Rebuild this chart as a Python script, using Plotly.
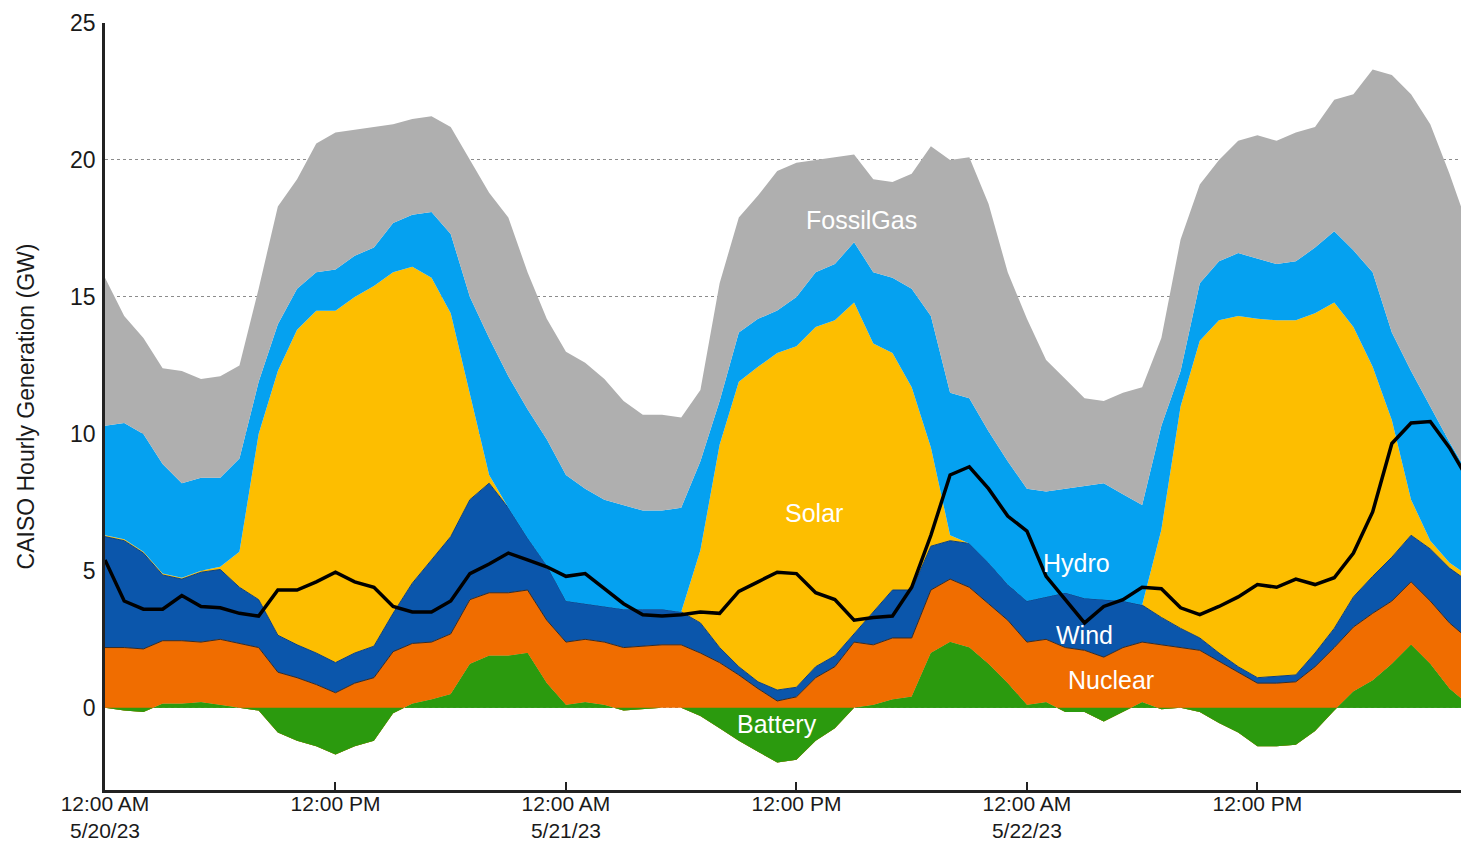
import pandas as pd
import plotly.graph_objects as go

# hourly CAISO generation, GW, starting 12:00 AM 5/20/23
times = pd.date_range("2023-05-20 00:00", periods=72, freq="h")

battery = [0, -0.1, -0.15, 0.15, 0.15, 0.2, 0.1, 0, -0.1, -0.9, -1.2, -1.4,
           -1.7, -1.4, -1.2, -0.2, 0.15, 0.3, 0.5, 1.6, 1.9, 1.9, 2.0, 0.9,
           0.1, 0.2, 0.1, -0.1, -0.05, 0, 0, -0.3, -0.75, -1.2, -1.6, -2.0,
           -1.9, -1.2, -0.75, 0, 0.1, 0.3, 0.4, 2.0, 2.4, 2.2, 1.6, 0.9,
           0.1, 0.2, -0.15, -0.15, -0.5, -0.15, 0.2, -0.05, 0, -0.15, -0.55, -0.9,
           -1.4, -1.4, -1.35, -0.85, -0.1, 0.6, 1.0, 1.6, 2.3, 1.6, 0.7, 0.1]
nuclear = [2.2, 2.3, 2.3, 2.3, 2.3, 2.2, 2.4, 2.35, 2.3, 2.2, 2.3, 2.25,
           2.25, 2.3, 2.3, 2.25, 2.2, 2.1, 2.2, 2.35, 2.3, 2.3, 2.3, 2.3,
           2.3, 2.3, 2.3, 2.3, 2.3, 2.3, 2.3, 2.3, 2.4, 2.4, 2.3, 2.25,
           2.3, 2.3, 2.25, 2.4, 2.2, 2.25, 2.15, 2.3, 2.3, 2.2, 2.2, 2.3,
           2.3, 2.3, 2.35, 2.25, 2.35, 2.35, 2.2, 2.35, 2.2, 2.25, 2.25, 2.2,
           2.3, 2.3, 2.3, 2.35, 2.3, 2.35, 2.45, 2.3, 2.3, 2.3, 2.4, 2.4]
wind = [4.05, 3.9, 3.5, 2.4, 2.25, 2.55, 2.55, 2.05, 1.75, 1.35, 1.2, 1.15,
        1.1, 1.1, 1.15, 1.4, 2.2, 3.0, 3.55, 3.65, 4.0, 3.1, 1.9, 2.0,
        1.5, 1.3, 1.3, 1.4, 1.35, 1.3, 1.2, 1.1, 0.55, 0.3, 0.25, 0.4,
        0.35, 0.4, 0.4, 0.3, 1.2, 1.75, 1.75, 1.6, 1.4, 1.6, 1.5, 1.3,
        1.5, 1.55, 2.0, 1.9, 2.1, 1.7, 1.35, 1.0, 0.7, 0.45, 0.3, 0.2,
        0.2, 0.25, 0.25, 0.5, 0.7, 1.1, 1.35, 1.6, 1.7, 1.9, 2.0, 2.1]
solar = [0.05, 0.05, 0.05, 0.05, 0.05, 0.05, 0.1, 1.3, 6.05, 9.65, 11.5, 12.5,
         12.85, 13.0, 13.15, 12.45, 11.55, 10.3, 8.15, 3.8, 0.3, 0, 0, 0,
         0, 0, 0, 0, 0, 0, 0, 2.65, 7.4, 10.4, 11.5, 12.3,
         12.45, 12.4, 12.25, 12.1, 9.8, 8.65, 7.4, 3.6, 0.2, 0, 0, 0,
         0, 0, 0, 0, 0, 0, 0, 3.2, 8.1, 10.85, 12.15, 12.8,
         13.1, 13.0, 12.95, 12.4, 11.9, 9.85, 7.65, 5.0, 1.3, 0.3, 0.2, 0.2]
hydro = [4.0, 4.25, 4.3, 4.0, 3.45, 3.4, 3.25, 3.4, 1.9, 1.7, 1.5, 1.4,
         1.5, 1.5, 1.4, 1.8, 1.9, 2.4, 2.9, 3.6, 5.0, 4.8, 4.7, 4.6,
         4.6, 4.2, 3.9, 3.8, 3.6, 3.6, 3.8, 3.25, 1.6, 1.8, 1.75, 1.55,
         1.8, 2.0, 2.05, 2.2, 2.6, 2.75, 3.6, 4.8, 5.2, 5.3, 4.8, 4.5,
         4.1, 3.85, 3.8, 4.1, 4.25, 3.9, 3.65, 3.8, 1.3, 2.1, 2.15, 2.3,
         2.2, 2.05, 2.15, 2.4, 2.6, 2.8, 3.45, 3.2, 4.7, 4.9, 4.4, 3.7]
fossil_gas = [5.4, 3.9, 3.5, 3.5, 4.1, 3.6, 3.7, 3.4, 3.4, 4.3, 4.0, 4.7,
              5.0, 4.6, 4.4, 3.6, 3.5, 3.5, 3.9, 5.0, 5.3, 5.8, 5.0, 4.4,
              4.5, 4.6, 4.4, 3.8, 3.5, 3.5, 3.3, 2.6, 4.3, 4.2, 4.5, 5.1,
              4.9, 4.1, 3.9, 3.2, 3.4, 3.5, 4.2, 6.2, 8.5, 8.8, 8.3, 6.9,
              6.2, 4.8, 4.0, 3.2, 3.0, 3.7, 4.3, 3.2, 4.8, 3.6, 3.7, 4.1,
              4.5, 4.5, 4.7, 4.4, 4.8, 5.7, 7.4, 9.4, 10.1, 10.3, 9.8, 9.0]
imports = [5.4, 3.9, 3.6, 3.6, 4.1, 3.7, 3.65, 3.45, 3.35, 4.3, 4.3, 4.6,
           4.95, 4.6, 4.4, 3.7, 3.5, 3.5, 3.9, 4.9, 5.25, 5.65, 5.4, 5.15,
           4.8, 4.9, 4.35, 3.8, 3.4, 3.35, 3.4, 3.5, 3.45, 4.25, 4.6, 4.95,
           4.9, 4.2, 3.95, 3.2, 3.3, 3.35, 4.4, 6.3, 8.5, 8.8, 8.0, 7.0,
           6.45, 4.8, 3.95, 3.1, 3.7, 3.95, 4.4, 4.35, 3.65, 3.4, 3.7, 4.05,
           4.5, 4.4, 4.7, 4.5, 4.75, 5.65, 7.15, 9.65, 10.4, 10.45, 9.5, 8.3]

tick_vals = ["2023-05-20 00:00", "2023-05-20 12:00", "2023-05-21 00:00",
             "2023-05-21 12:00", "2023-05-22 00:00", "2023-05-22 12:00"]
tick_text = ["12:00 AM<br>5/20/23", "12:00 PM", "12:00 AM<br>5/21/23",
             "12:00 PM", "12:00 AM<br>5/22/23", "12:00 PM"]

series = [
    ("Battery", battery, "#2b9a0e", 0, None),
    ("Nuclear", nuclear, "#f06d00", 1, "#3a2a20"),
    ("Wind", wind, "#0b56ab", 1, "#0a3f80"),
    ("Solar", solar, "#fdbe00", 0, None),
    ("Hydro", hydro, "#05a1f0", 0, None),
    ("FossilGas", fossil_gas, "#afafaf", 0, None),
]

# label text, hour-position and GW position of each in-chart label
labels = ["FossilGas", "Solar", "Hydro", "Wind", "Nuclear", "Battery"]
label_x = ["2023-05-21 15:24", "2023-05-21 12:54", "2023-05-22 02:36",
           "2023-05-22 03:00", "2023-05-22 04:24", "2023-05-21 11:00"]
label_y = [17.8, 7.1, 5.3, 2.65, 1.0, -0.6]

fig = go.Figure()
for name, vals, color, lw, lc in series:
    fig.add_trace(go.Scatter(
        x=times, y=vals, name=name, stackgroup="gen", mode="lines",
        fillcolor=color,
        line=dict(width=lw, color=lc if lc else color),
    ))

# battery drawn again on top so the discharge/charge area shows against zero
fig.add_trace(go.Scatter(
    x=times, y=battery, name="Battery", mode="lines", fill="tozeroy",
    fillcolor="#2b9a0e", line=dict(width=0, color="#2b9a0e"), showlegend=False,
))

fig.add_trace(go.Scatter(
    x=times, y=imports, name="Imports", mode="lines",
    line=dict(color="black", width=3.5),
))

for txt, lx, ly in zip(labels, label_x, label_y):
    fig.add_annotation(x=lx, y=ly, text=txt, showarrow=False,
                       font=dict(color="white", size=25))

fig.update_layout(
    width=1461, height=842,
    margin=dict(l=105, r=0, t=23, b=52),
    plot_bgcolor="white", paper_bgcolor="white",
    showlegend=False,
    font=dict(family="Liberation Sans, Arial, Helvetica, sans-serif",
              size=22, color="#1a1a1a"),
)
fig.update_xaxes(
    range=["2023-05-20 00:00", "2023-05-22 22:36"],
    tickvals=tick_vals, ticktext=tick_text,
    ticks="inside", ticklen=8, tickwidth=1.5, tickcolor="#222",
    showline=True, linecolor="#222", linewidth=2.5,
    showgrid=False, zeroline=False, automargin=False,
    tickfont=dict(size=21), ticklabelstandoff=-7,
)
fig.update_yaxes(
    range=[-3, 25], tickvals=[0, 5, 10, 15, 20, 25],
    showline=True, linecolor="#222", linewidth=2.5,
    showgrid=True, gridcolor="#8c8c8c", griddash="dot", gridwidth=1,
    zeroline=False, ticks="", ticklabelstandoff=2, automargin=False,
    tickfont=dict(size=23),
    title=dict(text="CAISO Hourly Generation (GW)", font=dict(size=23),
               standoff=30),
)

# drop the default body margin so the page is exactly the figure size
fig.write_html("out.html", config={"displayModeBar": False},
               post_script="document.body.style.margin='0';"
                           "document.body.style.overflow='hidden';")
